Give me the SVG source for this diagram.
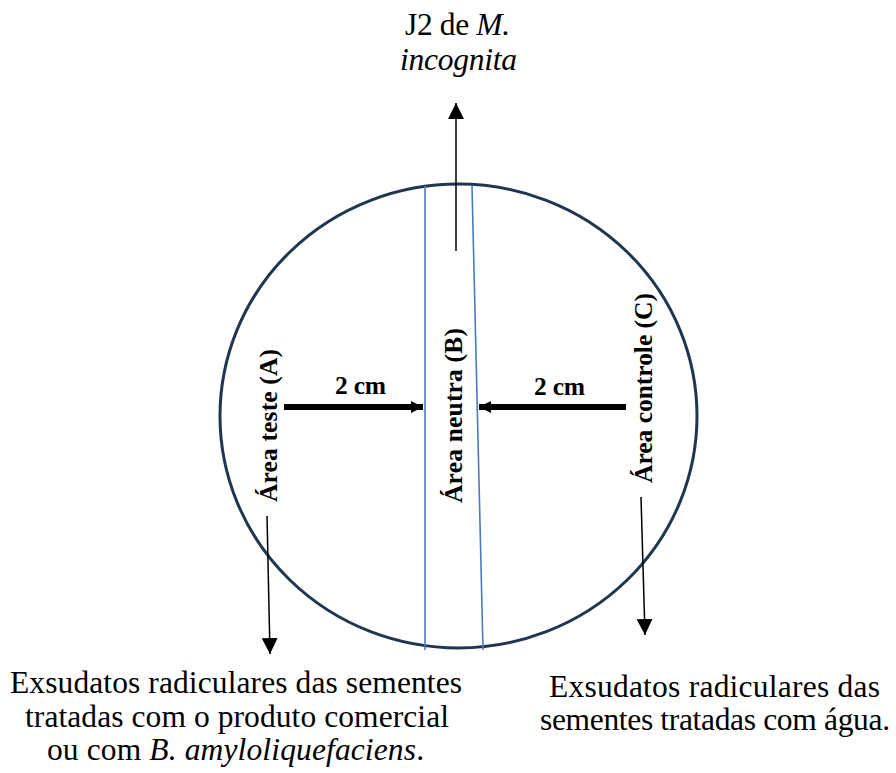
<svg xmlns="http://www.w3.org/2000/svg" width="896" height="773" viewBox="0 0 896 773">
<style>
text{font-family:'Liberation Serif','Times New Roman',Times,serif;fill:#000}
.b{font-weight:bold;font-size:25.5px}
.big{font-size:31.5px}
.c{text-anchor:middle}
.thin{stroke:#000;stroke-width:1.5;fill:none}
.thick{stroke:#000;stroke-width:6;fill:none}
.blue{stroke:#4a7bc0;stroke-width:1.6;fill:none}
</style>
<defs>
<marker id="ah" viewBox="0 0 10 10" refX="10" refY="5" markerWidth="12" markerHeight="12" markerUnits="userSpaceOnUse" orient="auto"><path d="M0,0 L10,5 L0,10 Z" fill="#000"/></marker>
<marker id="ahs" viewBox="0 0 10 10" refX="10" refY="5" markerWidth="16" markerHeight="16" markerUnits="userSpaceOnUse" orient="auto"><path d="M0,0 L10,5 L0,10 Z" fill="#000"/></marker>
</defs>
<rect width="896" height="773" fill="#fff"/>
<g id="dish">
<ellipse cx="458.5" cy="416" rx="238.5" ry="232" fill="none" stroke="#1f3550" stroke-width="3"/>
<line class="blue" x1="425" y1="186" x2="425" y2="650"/>
<line class="blue" x1="472" y1="186" x2="483" y2="650"/>
</g>
<g id="connectors">
<line class="thin" x1="456" y1="251" x2="456" y2="103" marker-end="url(#ahs)"/>
<line class="thick" x1="284" y1="407" x2="423" y2="407" marker-end="url(#ah)"/>
<line class="thick" x1="626" y1="407" x2="479" y2="407" marker-end="url(#ah)"/>
<line class="thin" x1="267" y1="516" x2="270" y2="654" marker-end="url(#ahs)"/>
<line class="thin" x1="641" y1="497" x2="645" y2="635" marker-end="url(#ahs)"/>
</g>
<g id="areaA"><text class="b c" transform="translate(277,425.5) rotate(-90)" textLength="153" lengthAdjust="spacing">Área teste (A)</text></g>
<g id="areaB"><text class="b c" transform="translate(462,415.5) rotate(-90)" textLength="175" lengthAdjust="spacing">Área neutra (B)</text></g>
<g id="areaC"><text class="b c" transform="translate(652,388) rotate(-90)" textLength="190" lengthAdjust="spacing">Área controle (C)</text></g>
<g id="dist1"><text class="b c" x="360.5" y="394" textLength="51" lengthAdjust="spacing">2 cm</text></g>
<g id="dist2"><text class="b c" x="559.5" y="395" textLength="51" lengthAdjust="spacing">2 cm</text></g>
<g id="j2">
<text class="big c" x="457.5" y="35" textLength="105" lengthAdjust="spacing">J2 de <tspan font-style="italic">M.</tspan></text>
<text class="big c" x="458.5" y="70" font-style="italic" textLength="117" lengthAdjust="spacing">incognita</text>
</g>
<g id="exsA">
<text class="big c" x="236" y="693" textLength="452" lengthAdjust="spacing">Exsudatos radiculares das sementes</text>
<text class="big c" x="237" y="727" textLength="424" lengthAdjust="spacing">tratadas com o produto comercial</text>
<text class="big c" x="235.5" y="760" textLength="377" lengthAdjust="spacing">ou com <tspan font-style="italic">B. amyloliquefaciens</tspan>.</text>
</g>
<g id="exsC">
<text class="big c" x="714.5" y="697" textLength="331" lengthAdjust="spacing">Exsudatos radiculares das</text>
<text class="big c" x="715" y="730" textLength="350" lengthAdjust="spacing">sementes tratadas com água.</text>
</g>
</svg>
